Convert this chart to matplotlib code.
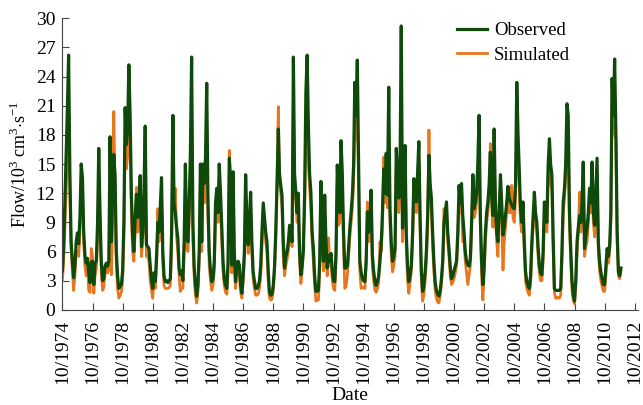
import pandas as pd
import matplotlib.pyplot as plt
import matplotlib.dates as mdates

plt.switch_backend('Agg')
plt.rcParams['font.family'] = 'Liberation Serif'
plt.rcParams['mathtext.fontset'] = 'custom'
plt.rcParams['mathtext.rm'] = 'Liberation Serif'

# monthly flow, one row per water year (Oct-Sep)
observed = [
    4.0, 6.5, 11.0, 16.0, 21.0, 26.2, 14.0, 7.0, 5.0, 3.3, 4.5, 7.0,      # 1974
    7.9, 6.8, 9.5, 15.0, 13.5, 8.0, 5.6, 4.8, 5.3, 3.8, 2.8, 4.9,          # 1975
    5.0, 2.6, 4.8, 5.0, 9.0, 16.6, 10.0, 5.0, 3.0, 3.2, 4.5, 4.8,          # 1976
    4.5, 5.0, 17.8, 7.0, 12.0, 16.0, 13.8, 6.0, 3.5, 2.2, 2.4, 2.6,        # 1977
    4.0, 9.0, 20.8, 17.0, 18.9, 25.2, 20.0, 12.0, 7.5, 6.0, 9.5, 11.9,     # 1978
    9.5, 10.0, 13.8, 6.5, 8.0, 12.0, 18.9, 6.7, 6.5, 6.3, 4.5, 3.0,        # 1979
    2.2, 3.8, 2.9, 5.5, 9.0, 8.0, 10.5, 13.6, 6.0, 3.5, 2.9, 3.0,          # 1980
    2.8, 3.0, 3.2, 8.0, 20.0, 11.0, 10.0, 8.5, 7.4, 4.3, 3.6, 4.0,         # 1981
    3.0, 7.0, 15.0, 7.5, 7.0, 10.5, 16.0, 26.0, 9.0, 4.5, 2.5, 1.4,        # 1982
    2.5, 6.0, 15.0, 7.0, 15.0, 13.0, 15.5, 23.3, 11.0, 6.0, 4.0, 2.9,      # 1983
    3.2, 5.0, 11.0, 12.5, 10.0, 15.0, 12.0, 8.4, 5.0, 3.2, 2.5, 2.2,       # 1984
    5.0, 15.6, 13.2, 4.6, 14.2, 6.0, 2.9, 4.6, 5.0, 4.6, 2.5, 1.7,         # 1985
    3.5, 6.0, 13.9, 9.0, 6.7, 9.0, 12.1, 7.0, 3.9, 3.0, 2.2, 2.2,          # 1986
    2.4, 3.0, 4.5, 8.0, 11.0, 9.5, 8.0, 7.0, 4.0, 1.8, 1.5, 1.6,           # 1987
    2.5, 4.5, 8.0, 13.0, 18.6, 14.0, 12.8, 11.8, 7.0, 4.3, 5.5, 6.0,       # 1988
    7.0, 8.7, 8.0, 7.0, 26.0, 14.0, 12.1, 10.0, 12.0, 6.0, 3.6, 4.5,       # 1989
    6.0, 12.0, 22.4, 26.2, 18.6, 14.0, 12.1, 8.0, 6.3, 3.5, 1.9, 1.9,      # 1990
    2.0, 5.0, 13.2, 8.0, 5.0, 11.8, 7.0, 4.3, 5.6, 5.0, 5.8, 4.0,          # 1991
    3.0, 2.9, 6.0, 14.9, 11.0, 10.0, 17.4, 14.2, 8.0, 4.3, 4.3, 4.5,       # 1992
    6.3, 8.5, 10.0, 11.8, 15.0, 23.4, 20.0, 25.7, 15.2, 5.0, 3.9, 3.2,     # 1993
    3.0, 2.9, 5.0, 10.1, 8.0, 9.0, 12.3, 5.6, 4.0, 2.9, 2.5, 2.9,          # 1994
    3.5, 5.0, 6.7, 10.0, 14.5, 12.0, 16.1, 11.8, 22.9, 10.4, 7.0, 5.0,     # 1995
    5.5, 6.3, 16.6, 14.0, 11.5, 14.0, 29.2, 8.4, 12.0, 16.9, 7.7, 4.5,     # 1996
    2.9, 3.5, 4.6, 8.0, 13.5, 11.5, 11.1, 14.0, 17.3, 9.7, 4.0, 1.9,       # 1997
    2.5, 3.9, 6.0, 9.7, 15.9, 13.0, 11.5, 8.0, 5.0, 2.9, 2.0, 1.6,         # 1998
    1.4, 2.0, 3.2, 5.0, 9.0, 10.0, 11.1, 8.0, 6.3, 4.5, 3.2, 3.5,          # 1999
    4.0, 4.5, 5.0, 8.0, 12.8, 11.0, 13.0, 9.7, 8.0, 6.0, 5.0, 4.6,         # 2000
    4.5, 5.3, 9.0, 13.9, 10.4, 11.0, 12.0, 15.0, 20.0, 9.7, 5.0, 2.6,      # 2001
    4.5, 8.0, 10.0, 11.1, 13.0, 16.2, 12.0, 9.7, 18.6, 11.1, 8.0, 7.0,     # 2002
    10.0, 13.9, 11.0, 7.7, 8.5, 9.7, 11.0, 12.7, 11.5, 11.1, 10.8, 10.5,   # 2003
    10.4, 13.0, 23.4, 18.0, 14.2, 10.4, 9.0, 11.1, 7.0, 4.0, 2.9, 2.5,     # 2004
    2.2, 3.5, 7.0, 9.5, 12.1, 10.0, 9.0, 6.5, 4.6, 3.8, 3.6, 6.0,          # 2005
    11.1, 10.0, 9.0, 14.9, 17.6, 15.0, 13.9, 7.7, 2.2, 2.0, 2.0, 2.0,      # 2006
    2.0, 2.2, 6.0, 11.1, 12.5, 15.0, 21.2, 20.0, 10.0, 6.3, 3.0, 1.5,      # 2007
    0.9, 3.0, 7.0, 8.5, 9.7, 9.0, 11.0, 15.2, 6.3, 7.5, 8.4, 10.0,         # 2008
    12.5, 11.0, 15.2, 10.0, 8.7, 12.0, 15.6, 7.0, 5.0, 3.9, 3.2, 2.6,      # 2009
    2.6, 4.5, 6.3, 5.5, 6.7, 10.0, 23.8, 20.0, 25.8, 18.3, 8.0, 3.9,       # 2010
    3.5, 4.3,                                                             # 2011
]

simulated = [
    3.0, 5.0, 8.5, 12.0, 16.0, 19.0, 12.5, 6.0, 4.0, 2.0, 3.5, 6.0,
    6.0, 5.5, 8.0, 12.5, 12.0, 7.0, 4.5, 3.5, 4.5, 2.0, 1.8, 6.3,
    5.5, 1.7, 3.5, 4.2, 7.5, 14.0, 9.0, 4.0, 2.0, 2.3, 3.8, 4.6,
    3.8, 4.2, 12.0, 3.6, 9.0, 20.4, 11.5, 4.5, 2.2, 1.2, 1.5, 1.8,
    3.0, 7.5, 17.0, 14.5, 16.0, 20.0, 16.5, 10.0, 6.0, 5.0, 8.0, 12.6,
    8.0, 9.5, 12.0, 5.5, 7.0, 10.5, 15.5, 5.5, 5.5, 5.0, 3.0, 2.0,
    1.2, 3.0, 2.2, 4.5, 10.4, 7.0, 9.0, 11.5, 5.0, 2.5, 2.2, 2.2,
    2.2, 2.3, 2.5, 6.5, 16.5, 10.5, 12.5, 7.5, 6.0, 3.5, 1.9, 2.2,
    2.2, 6.0, 12.5, 6.5, 6.0, 9.0, 14.0, 20.5, 7.5, 3.5, 1.5, 0.7,
    1.8, 5.0, 12.5, 6.0, 13.0, 11.0, 13.5, 19.0, 9.5, 4.5, 3.0, 2.0,
    2.5, 4.0, 9.5, 11.5, 9.0, 12.5, 10.5, 7.0, 4.0, 2.5, 1.8, 1.6,
    4.0, 16.4, 11.5, 3.8, 12.5, 4.5, 2.2, 3.8, 4.2, 3.8, 1.8, 1.2,
    2.8, 5.0, 12.0, 8.0, 5.8, 8.0, 10.5, 6.0, 3.2, 2.2, 1.5, 1.5,
    1.6, 2.2, 3.5, 6.5, 10.0, 8.5, 7.0, 6.0, 3.0, 1.2, 1.0, 1.1,
    2.0, 4.0, 7.5, 13.5, 20.9, 13.0, 12.0, 10.5, 5.5, 3.5, 4.5, 5.2,
    6.0, 7.5, 7.0, 6.5, 21.0, 12.5, 11.0, 9.0, 10.0, 5.0, 2.7, 3.8,
    7.0, 10.5, 19.0, 22.0, 14.9, 12.5, 10.5, 7.0, 5.0, 2.5, 0.9, 1.0,
    1.0, 4.0, 11.5, 7.0, 4.0, 10.5, 6.0, 3.5, 7.4, 4.5, 5.0, 3.0,
    2.2, 2.0, 5.0, 13.0, 8.7, 9.0, 15.0, 12.5, 6.5, 2.2, 2.4, 3.5,
    5.5, 7.5, 9.0, 10.5, 13.0, 19.5, 17.5, 20.0, 13.0, 4.0, 2.2, 2.3,
    2.3, 2.2, 4.5, 11.1, 7.0, 8.0, 11.0, 4.5, 3.0, 2.0, 1.8, 2.2,
    2.8, 7.0, 6.0, 8.5, 15.7, 11.0, 14.0, 10.5, 18.0, 9.0, 5.5, 3.9,
    4.5, 5.5, 14.5, 12.5, 10.0, 12.0, 23.0, 7.0, 11.0, 15.5, 6.5, 3.0,
    1.7, 2.8, 4.0, 7.0, 12.0, 10.5, 10.0, 12.5, 15.0, 8.5, 3.0, 0.9,
    1.5, 3.0, 5.0, 8.5, 18.5, 12.0, 10.0, 6.5, 4.0, 2.0, 1.2, 0.8,
    0.7, 1.5, 2.6, 4.5, 10.4, 9.0, 10.0, 7.0, 5.5, 3.5, 2.6, 2.8,
    3.2, 3.8, 4.5, 7.0, 11.5, 10.0, 11.5, 7.0, 7.0, 5.0, 3.8, 2.6,
    3.5, 4.5, 8.0, 12.5, 9.5, 10.0, 11.0, 13.5, 17.0, 8.5, 3.5, 1.0,
    3.5, 7.0, 9.0, 10.0, 12.0, 17.1, 11.0, 8.5, 16.0, 10.0, 7.0, 5.5,
    11.1, 12.5, 9.0, 4.1, 7.0, 8.5, 10.0, 11.5, 10.0, 10.0, 12.8, 9.5,
    9.0, 11.5, 19.0, 15.0, 12.5, 9.0, 8.0, 10.0, 6.0, 3.0, 2.2, 1.8,
    1.5, 2.8, 6.0, 8.5, 11.0, 9.0, 8.0, 5.5, 3.8, 3.0, 3.0, 5.0,
    9.5, 8.5, 8.0, 13.5, 15.0, 13.0, 12.5, 6.5, 1.8, 1.2, 1.2, 1.3,
    1.2, 1.5, 5.0, 10.0, 11.5, 13.5, 18.5, 17.5, 8.5, 5.0, 2.0, 1.0,
    0.6, 2.5, 6.0, 8.0, 12.1, 8.0, 10.0, 13.5, 5.5, 6.5, 7.0, 9.0,
    11.0, 10.0, 13.5, 9.0, 7.5, 11.0, 14.0, 6.0, 4.0, 3.0, 2.4, 1.9,
    1.9, 3.5, 5.5, 4.8, 6.0, 9.0, 23.0, 19.0, 18.0, 17.5, 7.0, 3.5,
    3.2, 4.0,
]

dates = pd.date_range('1974-10-01', periods=len(observed), freq='MS')
tick_dates = pd.date_range('1974-10-01', '2012-10-01', freq='24MS')

fig = plt.figure(figsize=(6.43, 4.05), dpi=100)
ax = fig.add_axes([0.097, 0.235, 0.895, 0.72])

l_sim, = ax.plot(dates, simulated, color='#e8761e', lw=2.0, label='Simulated')
l_obs, = ax.plot(dates, observed, color='#0e4a0a', lw=2.3, label='Observed')

ax.set_xlim(pd.Timestamp('1974-10-01'), pd.Timestamp('2012-12-15'))
ax.set_ylim(0, 30)
ax.set_yticks(range(0, 31, 3))
ax.set_xticks(tick_dates)
ax.xaxis.set_major_formatter(mdates.DateFormatter('%m/%Y'))
plt.setp(ax.get_xticklabels(), rotation=90)

for s in ['top', 'right']:
    ax.spines[s].set_visible(False)
for s in ['left', 'bottom']:
    ax.spines[s].set_color('#444444')
ax.tick_params(direction='in', length=5, color='#444444', labelsize=14)
ax.tick_params(axis='x', pad=7)
ax.tick_params(axis='y', pad=5)

ax.set_xlabel('Date', fontsize=14, labelpad=2)
ax.set_ylabel(r'Flow/10$^3$ cm$^3$$\cdot$s$^{-1}$', fontsize=13, labelpad=4)

ax.legend(handles=[l_obs, l_sim], loc='upper left', bbox_to_anchor=(0.657, 1.045),
          frameon=False, fontsize=13.5, handlelength=1.6, handletextpad=0.35,
          labelspacing=0.4)

plt.savefig('out.png', dpi=100)
plt.close()
